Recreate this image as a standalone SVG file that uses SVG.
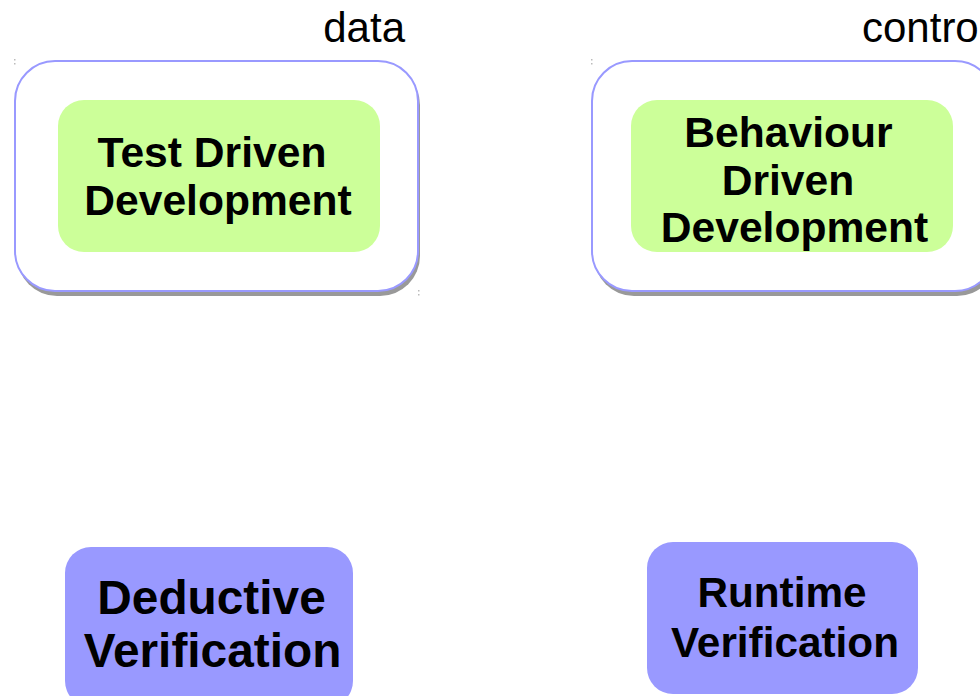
<svg xmlns="http://www.w3.org/2000/svg" width="980" height="696" viewBox="0 0 980 696">
<style>
.lbl{font-family:"Liberation Sans",Arial,sans-serif;font-size:42px;fill:#000}
.t{font-family:"Liberation Sans",Arial,sans-serif;font-weight:bold;fill:#000;text-anchor:middle}
.outer{fill:#fff;stroke:#9999ff;stroke-width:2}
.shadow{fill:#999}
.green{fill:#ccff99}
.blue{fill:#9999ff}
.dot{fill:#bbb}
</style>
<rect width="980" height="696" fill="#fff"/>
<g id="connectors"></g>
<g id="data-label"><text class="lbl" x="405" y="42" text-anchor="end">data</text></g>
<g id="control-label"><text class="lbl" x="862" y="42">contro</text></g>
<g id="data-container">
<rect class="shadow" x="17" y="65" width="403" height="231" rx="40"/>
<rect class="outer" x="15" y="61" width="403" height="230" rx="40"/>
<rect class="dot" x="14" y="59" width="1.5" height="1.5"/><rect class="dot" x="14" y="63" width="1.5" height="1.5"/>
<rect class="dot" x="418" y="290" width="1.5" height="1.5"/><rect class="dot" x="418" y="294" width="1.5" height="1.5"/>
</g>
<g id="control-container">
<rect class="shadow" x="594" y="65" width="403" height="231" rx="40"/>
<rect class="outer" x="592" y="61" width="403" height="230" rx="40"/>
<rect class="dot" x="591" y="59" width="1.5" height="1.5"/><rect class="dot" x="591" y="63" width="1.5" height="1.5"/>
</g>
<g id="tdd">
<rect class="green" x="58" y="100" width="322" height="152" rx="26"/>
<text class="t" font-size="42.6"><tspan x="212" y="167">Test Driven</tspan><tspan x="218" y="215">Development</tspan></text>
</g>
<g id="bdd">
<rect class="green" x="631" y="100" width="322" height="152" rx="26"/>
<text class="t" font-size="42.6"><tspan x="788.5" y="147">Behaviour</tspan><tspan x="788" y="195">Driven</tspan><tspan x="794.5" y="242">Development</tspan></text>
</g>
<g id="deductive">
<rect class="blue" x="65" y="547" width="288" height="160" rx="26"/>
<text class="t" font-size="47.8"><tspan x="211.5" y="613.5">Deductive</tspan><tspan x="212.5" y="667">Verification</tspan></text>
</g>
<g id="runtime">
<rect class="blue" x="647" y="542" width="271" height="152" rx="26"/>
<text class="t" font-size="42.3"><tspan x="782" y="607">Runtime</tspan><tspan x="785" y="656.5">Verification</tspan></text>
</g>
</svg>
